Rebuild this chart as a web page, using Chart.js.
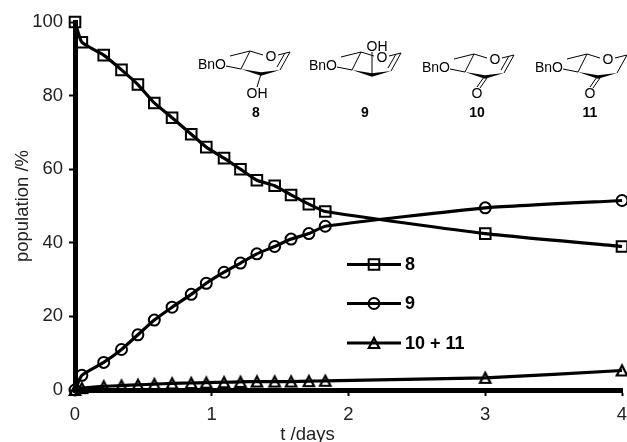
<!DOCTYPE html>
<html>
<head>
<meta charset="utf-8">
<title>population</title>
<style>
  html, body { margin: 0; padding: 0; background: #fff; }
  canvas { display: block; }
</style>
<script src="https://cdn.jsdelivr.net/npm/chart.js@4/dist/chart.umd.min.js"></script>
</head>
<body>
<canvas id="myChart" width="627" height="442"></canvas>
<script>
// valori
const days = [0, 0.05, 0.21, 0.34, 0.46, 0.58, 0.71, 0.85, 0.96, 1.09, 1.21, 1.33, 1.46, 1.58, 1.71, 1.83, 3.0, 4.0];
const compound8 = [100, 94.5, 91, 87, 83, 78, 74, 69.5, 66, 63, 60, 57, 55.5, 53, 50.5, 48.5, 42.5, 39];
const compound9 = [0, 4, 7.5, 11, 15, 19, 22.5, 26, 29, 32, 34.5, 37, 39, 41, 42.5, 44.5, 49.5, 51.5];
const compound10e11 = [0, 0.5, 1, 1.2, 1.4, 1.6, 1.8, 1.9, 2, 2.1, 2.2, 2.3, 2.3, 2.3, 2.4, 2.5, 3.3, 5.3];
const xTicks = [0, 1, 2, 3, 4];
const yTicks = [0, 20, 40, 60, 80, 100];
const seriesNames = ['8', '9', '10 + 11'];
const xTitle = 't /days';
const yTitle = 'population /%';

const fontName = '"Liberation Sans", Arial, sans-serif';

// triangolo centrato sul punto, quello di Chart.js sta troppo in alto
function makeTriangle() {
    const c = document.createElement('canvas');
    c.width = 18;
    c.height = 18;
    const g = c.getContext('2d');
    g.strokeStyle = '#000';
    g.lineWidth = 2.2;
    g.lineJoin = 'miter';
    g.beginPath();
    g.moveTo(9, 4);
    g.lineTo(3.8, 14);
    g.lineTo(14.2, 14);
    g.closePath();
    g.stroke();
    return c;
}

const seriesMarkers = ['rect', 'circle', makeTriangle()];
const seriesRadius = [7.5, 5.5, 7.5];

function makeDataset(i, values) {
    return {
        label: seriesNames[i],
        data: values.map((v, k) => ({ x: days[k], y: v })),
        borderColor: '#000',
        borderWidth: 3.2,
        backgroundColor: 'rgba(0,0,0,0)',
        pointStyle: seriesMarkers[i],
        pointRadius: seriesRadius[i],
        pointBorderColor: '#000',
        pointBorderWidth: 2,
        pointBackgroundColor: 'rgba(0,0,0,0)',
        tension: 0.15,
        clip: false
    };
}

// legenda dentro il grafico, linea con il marker al centro
const legendPlugin = {
    id: 'innerLegend',
    afterDatasetsDraw(chart) {
        const ctx = chart.ctx;
        const rows = [264.5, 303.5, 343];
        ctx.save();
        seriesNames.forEach((name, i) => {
            const y = rows[i];
            ctx.strokeStyle = '#000';
            ctx.lineWidth = 3.2;
            ctx.beginPath();
            ctx.moveTo(347, y);
            ctx.lineTo(401, y);
            ctx.stroke();
            ctx.lineWidth = 2;
            ctx.fillStyle = 'rgba(0,0,0,0)';
            Chart.helpers.drawPoint(ctx, { pointStyle: seriesMarkers[i], radius: seriesRadius[i], rotation: 0, borderWidth: 2 }, 374, y);
            ctx.fillStyle = '#000';
            ctx.font = 'bold 18px ' + fontName;
            ctx.textAlign = 'left';
            ctx.textBaseline = 'middle';
            ctx.fillText(name, 405, y + 1);
        });
        ctx.restore();
    }
};

// titolo asse x, nell'originale non e' centrato sull'asse
const xTitlePlugin = {
    id: 'xTitle',
    afterDraw(chart) {
        const ctx = chart.ctx;
        ctx.save();
        ctx.fillStyle = '#222';
        ctx.font = '18.5px ' + fontName;
        ctx.textAlign = 'center';
        ctx.textBaseline = 'middle';
        ctx.fillText(xTitle, 307.5, 435);
        ctx.restore();
    }
};

// le quattro strutture in alto
const molecules = [
    { x: 241, y: 69, label: '8', labelX: 256, kind: 'olDown' },
    { x: 352, y: 70, label: '9', labelX: 365, kind: 'olUp' },
    { x: 465, y: 72, label: '10', labelX: 477, kind: 'oneEne' },
    { x: 578, y: 72, label: '11', labelX: 590, kind: 'oneAne' }
];

const structuresPlugin = {
    id: 'structures',
    afterDraw(chart) {
        const ctx = chart.ctx;
        const line = (x1, y1, x2, y2) => {
            ctx.beginPath();
            ctx.moveTo(x1, y1);
            ctx.lineTo(x2, y2);
            ctx.stroke();
        };
        const wedge = (x1, y1, x2, y2, x3, y3) => {
            ctx.beginPath();
            ctx.moveTo(x1, y1);
            ctx.lineTo(x2, y2 - 1.8);
            ctx.lineTo(x3, y3);
            ctx.lineTo(x2, y2 + 1.8);
            ctx.closePath();
            ctx.fill();
        };
        ctx.save();
        ctx.strokeStyle = '#000';
        ctx.fillStyle = '#000';
        ctx.lineWidth = 1;
        molecules.forEach(m => {
            const x = m.x, y = m.y;
            ctx.font = '14px ' + fontName;
            ctx.textBaseline = 'middle';
            ctx.textAlign = 'right';
            ctx.fillText('BnO', x - 15, y - 4);
            line(x - 15, y - 3, x, y);
            line(x, y, x + 9, y - 18);
            line(x + 9, y - 18, x - 11, y - 13);
            line(x + 9, y - 18, x + 22, y - 14);
            ctx.textAlign = 'center';
            ctx.fillText('O', x + 30, y - 12);
            line(x + 37, y - 14, x + 49, y - 17);
            line(x + 49, y - 17, x + 39, y + 1);
            if (m.kind !== 'oneAne') line(x + 44, y - 16, x + 36, y - 2);
            wedge(x, y, x + 20, y + 5, x + 39, y + 1);
            if (m.kind === 'olDown') {
                line(x + 20, y + 5, x + 16, y + 18);
                ctx.fillText('OH', x + 16, y + 25);
            } else if (m.kind === 'olUp') {
                line(x + 20, y + 5, x + 20, y - 18);
                ctx.fillText('OH', x + 25, y - 23);
            } else {
                line(x + 19, y + 5, x + 12, y + 15);
                line(x + 22, y + 6, x + 15, y + 16);
                ctx.fillText('O', x + 12, y + 22);
            }
            ctx.font = 'bold 14px ' + fontName;
            ctx.fillText(m.label, m.labelX, 113);
        });
        ctx.restore();
    }
};

const ctx = document.getElementById('myChart').getContext('2d');
const chart = new Chart(ctx, {
    type: 'line',
    data: {
        datasets: [
            makeDataset(0, compound8),
            makeDataset(1, compound9),
            makeDataset(2, compound10e11)
        ]
    },
    plugins: [legendPlugin, xTitlePlugin, structuresPlugin],
    options: {
        responsive: false,
        animation: false,
        layout: { autoPadding: false, padding: { top: 22, right: 5 } },
        plugins: {
            legend: { display: false },
            tooltip: { enabled: false }
        },
        scales: {
            x: {
                type: 'linear',
                min: 0,
                max: 4,
                afterFit(scale) { scale.height = 52; scale.paddingLeft = 0; scale.paddingRight = 0; },
                afterBuildTicks(scale) { scale.ticks = xTicks.map(v => ({ value: v })); },
                border: { display: true, color: '#000', width: 5 },
                grid: { display: true, drawOnChartArea: false, drawTicks: true, tickLength: 6, tickWidth: 2, tickColor: '#000' },
                ticks: { color: '#222', font: { family: fontName, size: 18.5 }, padding: 8, maxRotation: 0, autoSkip: false }
            },
            y: {
                min: 0,
                max: 100,
                afterFit(scale) { scale.width = 75; scale.paddingTop = 0; scale.paddingBottom = 0; },
                afterBuildTicks(scale) { scale.ticks = yTicks.map(v => ({ value: v })); },
                border: { display: true, color: '#000', width: 5 },
                grid: { display: true, drawOnChartArea: false, drawTicks: true, tickLength: 6, tickWidth: 2, tickColor: '#000' },
                ticks: { color: '#222', font: { family: fontName, size: 18.5 }, padding: 6, autoSkip: false },
                title: { display: true, text: yTitle, color: '#222', font: { family: fontName, size: 18.5 }, padding: { top: 12, bottom: 0 } }
            }
        }
    }
});
</script>
</body>
</html>
